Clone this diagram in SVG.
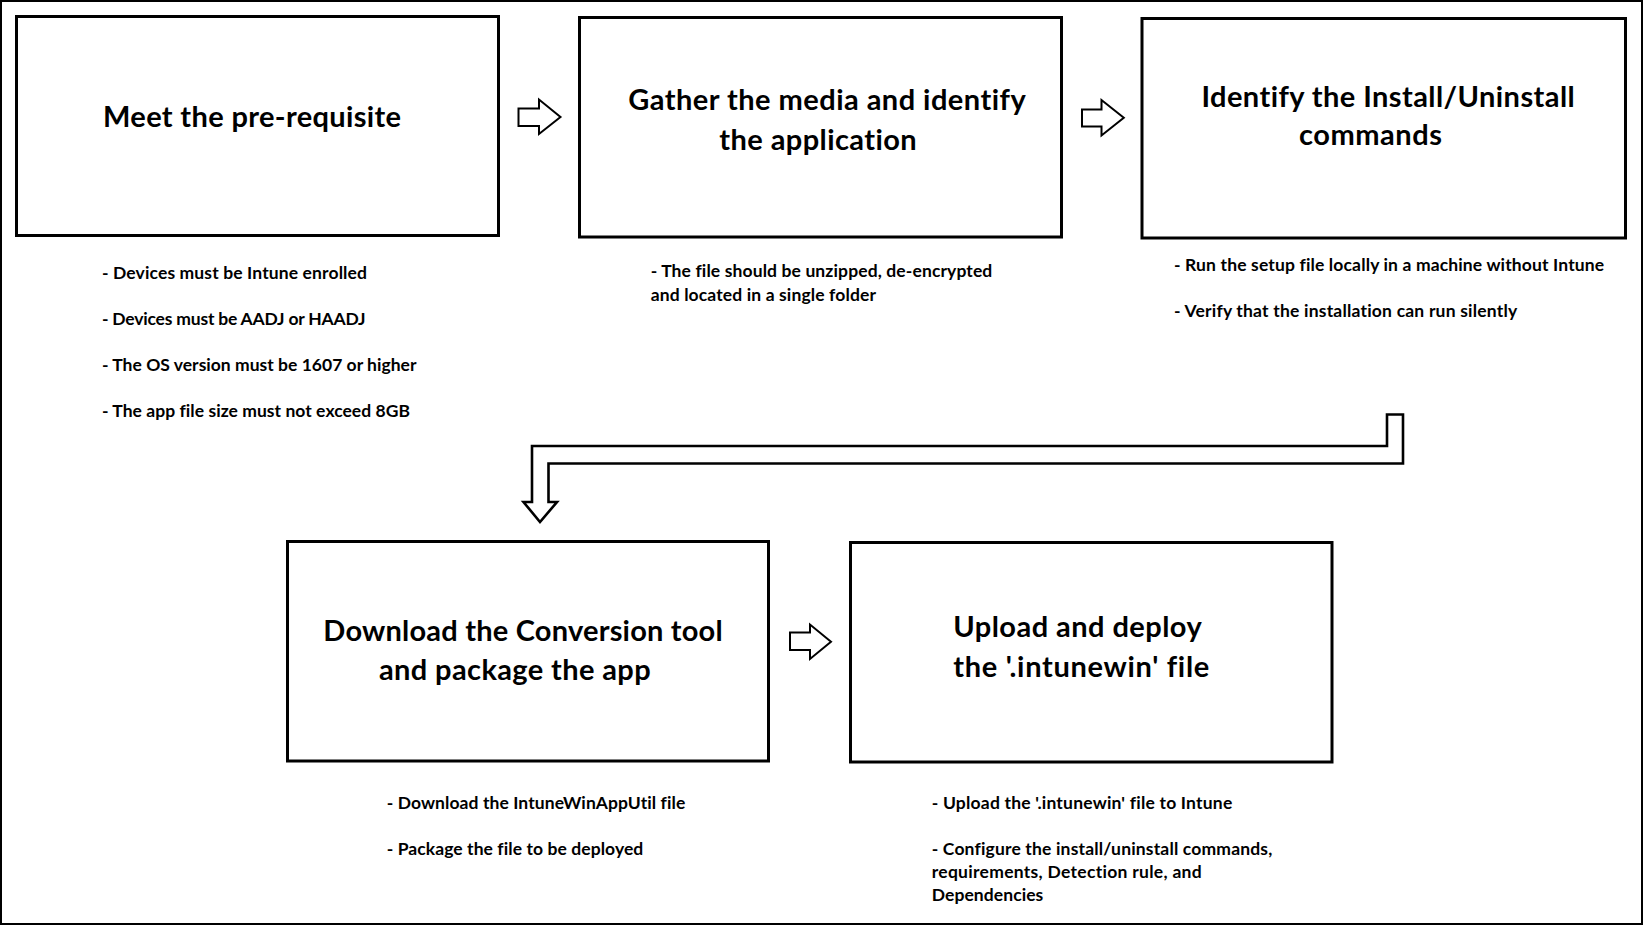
<svg xmlns="http://www.w3.org/2000/svg" width="1643" height="925" viewBox="0 0 1643 925">
<style>
.frame{fill:#fff;stroke:#000;stroke-width:2}
.box{fill:#fff;stroke:#000;stroke-width:3}
.arrow{fill:#fff;stroke:#000;stroke-width:2;stroke-linejoin:miter}
.bent{fill:#fff;stroke:#000;stroke-width:2.6;stroke-linejoin:miter}
.title{font-family:Lato,"Open Sans","Liberation Sans",sans-serif;font-weight:bold;font-size:29px;fill:#000;font-variant-ligatures:none}
.note{font-family:Lato,"Open Sans","Liberation Sans",sans-serif;font-weight:bold;font-size:17.5px;fill:#000;font-variant-ligatures:none}
</style>
<rect class="frame" x="1" y="1" width="1641" height="923"/>
<g id="connectors">
<polygon class="arrow" points="518.5,108.5 539,108.5 539,99.5 560.5,117 539,134 539,126 518.5,126"/>
<polygon class="arrow" points="1082,109.5 1101.5,109.5 1101.5,100 1123.8,117.7 1101.5,135.5 1101.5,126.5 1082,126.5"/>
<polygon class="arrow" points="790,632.5 810,632.5 810,624.5 831,641.7 810,659 810,650 790,650"/>
<polygon class="bent" points="1387,414.5 1403,414.5 1403,463.5 548.5,463.5 548.5,502 557,502 540,522 523.5,502 532,502 532,446 1387,446"/>
</g>
<g id="node1">
<rect class="box" x="16.5" y="16.5" width="482" height="219"/>
<text class="title" x="103" y="126.5" textLength="298">Meet the pre-requisite</text>
<text class="note" x="102" y="279.3" textLength="265">- Devices must be Intune enrolled</text>
<text class="note" x="102" y="325" textLength="263.5">- Devices must be AADJ or HAADJ</text>
<text class="note" x="102" y="371" textLength="314.5">- The OS version must be 1607 or higher</text>
<text class="note" x="102" y="416.7" textLength="308">- The app file size must not exceed 8GB</text>
</g>
<g id="node2">
<rect class="box" x="579.5" y="17.5" width="482" height="219.5"/>
<text class="title" x="628.3" y="109.8" textLength="397.4">Gather the media and identify</text>
<text class="title" x="719.3" y="149.8" textLength="197.4">the application</text>
<text class="note" x="650.7" y="277.3" textLength="341.6">- The file should be unzipped, de-encrypted</text>
<text class="note" x="650.7" y="300.7" textLength="225.3">and located in a single folder</text>
</g>
<g id="node3">
<rect class="box" x="1142" y="18.5" width="483.5" height="219.5"/>
<text class="title" x="1201.4" y="106.5" textLength="373.4">Identify the Install/Uninstall</text>
<text class="title" x="1299" y="144.5" textLength="143">commands</text>
<text class="note" x="1174" y="270.7" textLength="430.2">- Run the setup file locally in a machine without Intune</text>
<text class="note" x="1174" y="316.7" textLength="343.3">- Verify that the installation can run silently</text>
</g>
<g id="node4">
<rect class="box" x="287.5" y="541.5" width="481" height="219.5"/>
<text class="title" x="323.3" y="640.5" textLength="399.4">Download the Conversion tool</text>
<text class="title" x="379" y="679.8" textLength="271.7">and package the app</text>
<text class="note" x="386.7" y="809" textLength="298.6">- Download the IntuneWinAppUtil file</text>
<text class="note" x="386.7" y="855" textLength="256.6">- Package the file to be deployed</text>
</g>
<g id="node5">
<rect class="box" x="850.5" y="542.5" width="481.5" height="219.5"/>
<text class="title" x="953.3" y="637.2" textLength="248.4">Upload and deploy</text>
<text class="title" x="953.3" y="677.2" textLength="256">the '.intunewin' file</text>
<text class="note" x="931.7" y="809" textLength="300.6">- Upload the '.intunewin' file to Intune</text>
<text class="note" x="931.7" y="855" textLength="340.6">- Configure the install/uninstall commands,</text>
<text class="note" x="931.7" y="877.7" textLength="270">requirements, Detection rule, and</text>
<text class="note" x="931.7" y="900.7" textLength="111.6">Dependencies</text>
</g>
</svg>
